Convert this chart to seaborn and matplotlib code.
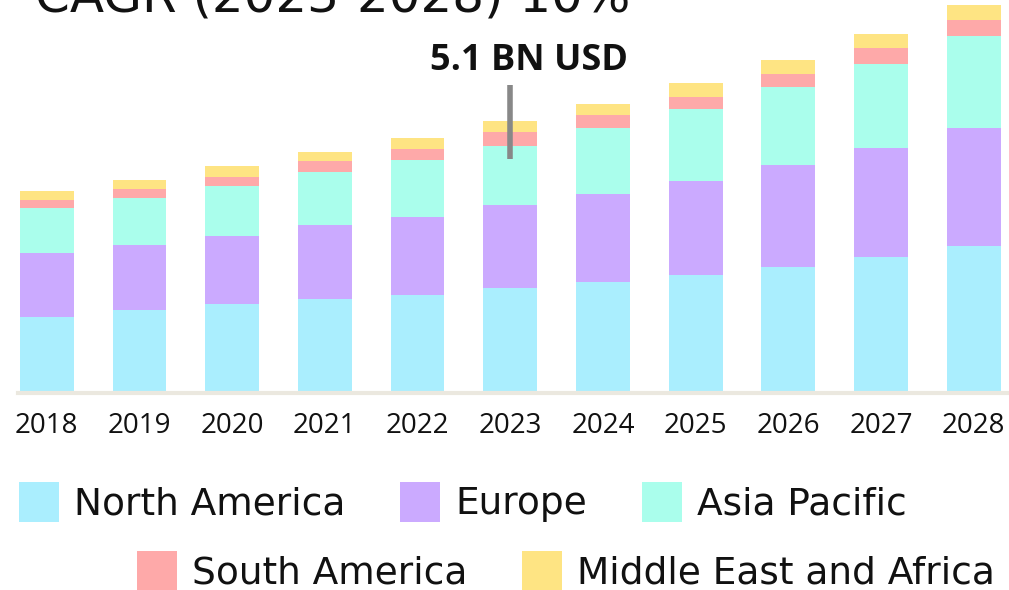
import matplotlib
matplotlib.use("Agg")
import matplotlib.pyplot as plt
import seaborn as sns
import pandas as pd
import numpy as np
from matplotlib.patches import Patch

years = ["2018", "2019", "2020", "2021", "2022", "2023", "2024", "2025", "2026", "2027", "2028"]
regions = ["North America", "Europe", "Asia Pacific", "South America", "Middle East and Africa"]
north_america = [1.43, 1.56, 1.67, 1.76, 1.84, 1.97, 2.08, 2.21, 2.36, 2.55, 2.76]
europe = [1.20, 1.22, 1.28, 1.39, 1.46, 1.56, 1.65, 1.76, 1.91, 2.04, 2.21]
asia_pacific = [0.84, 0.88, 0.94, 0.99, 1.07, 1.11, 1.24, 1.35, 1.46, 1.58, 1.73]
south_america = [0.15, 0.17, 0.17, 0.21, 0.21, 0.26, 0.24, 0.24, 0.26, 0.30, 0.30]
mea = [0.17, 0.17, 0.19, 0.17, 0.21, 0.21, 0.21, 0.26, 0.26, 0.26, 0.28]
colors = ["#aaeefe", "#cbaaff", "#aafeec", "#fea9a9", "#fee483"]
title_text = "CAGR (2023-2028) 10%"
annot_text = "5.1 BN USD"
annot_year = "2023"

sns.set_theme(style="white")
plt.rcParams["font.family"] = ["Open Sans", "DejaVu Sans"]

df = pd.DataFrame({"year": years, "North America": north_america, "Europe": europe,
                   "Asia Pacific": asia_pacific, "South America": south_america,
                   "Middle East and Africa": mea})

fig = plt.figure(figsize=(10.09, 5.90), dpi=100)
ax = fig.add_axes([18 / 1009, 1 - 393 / 590, 1 - 18 / 1009, 393 / 590])

cum = df[regions].cumsum(axis=1)
for i in range(len(regions) - 1, -1, -1):
    sns.barplot(x=df["year"], y=cum[regions[i]], color=colors[i], saturation=1,
                width=0.58, linewidth=0, ax=ax)

ax.set_xlim(-0.31, 10.38)
ax.set_ylim(0, 7.37)
ax.set_xlabel("")
ax.set_ylabel("")
ax.set_yticks([])
for s in ["top", "left", "right"]:
    ax.spines[s].set_visible(False)
ax.spines["bottom"].set_color("#ebe8df")
ax.spines["bottom"].set_linewidth(3)
ax.tick_params(axis="x", length=0, pad=14, labelsize=20, labelcolor="#111111")

# annotation
xi = years.index(annot_year)
total = cum[regions[-1]].iloc[xi]
ax.plot([xi, xi], [total - 0.72, total + 0.67], color="#888888", lw=4, solid_capstyle="butt")
ax.text(xi + 0.2, total + 0.95, annot_text, ha="center", va="baseline", fontsize=26,
        fontweight="bold", color="#111111")

fig.text(35 / 1009, 1 - 11 / 590, title_text, ha="left", va="baseline", fontsize=36,
         fontweight="normal", color="#111111", family=["DejaVu Sans"])

handles = [Patch(facecolor=c, edgecolor="none") for c in colors]
leg_kw = dict(frameon=False, handlelength=1.067, handleheight=1.264,
              handletextpad=0.4, columnspacing=1.47, borderpad=0, borderaxespad=0,
              prop={"family": "DejaVu Sans", "size": 27})
for t in [None]:
    pass
l1 = fig.legend(handles[:3], regions[:3], loc="center", bbox_to_anchor=(463 / 1009, 1 - 502 / 590), ncol=3, **leg_kw)
l2 = fig.legend(handles[3:], regions[3:], loc="center", bbox_to_anchor=(566 / 1009, 1 - 571 / 590), ncol=2, **leg_kw)
for lg in (l1, l2):
    for txt in lg.get_texts():
        txt.set_color("#111111")

fig.savefig("out.png", dpi=100)
